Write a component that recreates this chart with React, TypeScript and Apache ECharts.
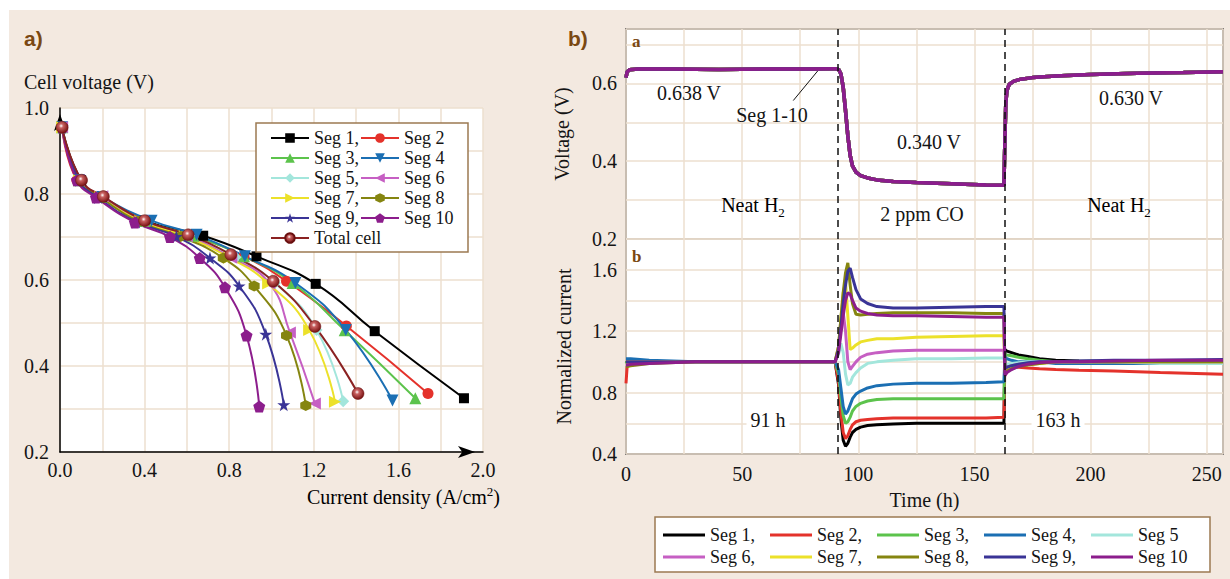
import React, { useEffect, useRef } from 'react';
import * as echarts from 'echarts';

// ---------- Panel a) polarization curves ----------
const segNames = ['Seg 1', 'Seg 2', 'Seg 3', 'Seg 4', 'Seg 5', 'Seg 6', 'Seg 7', 'Seg 8', 'Seg 9', 'Seg 10'];
const segColors = ['#000000', '#e4322b', '#5cc34c', '#1b6fb3', '#a3e6dc', '#c65fc3', '#ece12a', '#858510', '#3a3496', '#8c1d8c'];
const totalName = 'Total cell';
const totalColor = '#8b2222';

const seg1I = [0.01, 0.10, 0.20, 0.40, 0.677, 0.929, 1.209, 1.488, 1.910];
const seg1V = [0.955, 0.832, 0.793, 0.738, 0.703, 0.655, 0.591, 0.481, 0.325];
const seg2I = [0.01, 0.08, 0.19, 0.39, 0.63, 0.87, 1.071, 1.354, 1.74];
const seg2V = [0.955, 0.832, 0.793, 0.737, 0.703, 0.655, 0.597, 0.493, 0.336];
const seg3I = [0.01, 0.09, 0.19, 0.40, 0.63, 0.87, 1.10, 1.346, 1.68];
const seg3V = [0.955, 0.832, 0.793, 0.737, 0.703, 0.655, 0.593, 0.483, 0.325];
const seg4I = [0.01, 0.09, 0.20, 0.433, 0.646, 0.874, 1.113, 1.351, 1.572];
const seg4V = [0.955, 0.832, 0.793, 0.738, 0.705, 0.655, 0.593, 0.484, 0.32];
const seg5I = [0.01, 0.09, 0.19, 0.39, 0.61, 0.83, 1.016, 1.213, 1.339];
const seg5V = [0.955, 0.832, 0.793, 0.737, 0.703, 0.653, 0.593, 0.484, 0.318];
const seg6I = [0.01, 0.09, 0.20, 0.39, 0.60, 0.81, 0.99, 1.087, 1.205];
const seg6V = [0.955, 0.832, 0.795, 0.737, 0.702, 0.652, 0.592, 0.478, 0.313];
const seg7I = [0.01, 0.09, 0.19, 0.38, 0.59, 0.80, 0.984, 1.178, 1.30];
const seg7V = [0.955, 0.832, 0.793, 0.737, 0.702, 0.652, 0.592, 0.484, 0.317];
const seg8I = [0.01, 0.09, 0.19, 0.37, 0.57, 0.772, 0.918, 1.071, 1.162];
const seg8V = [0.955, 0.832, 0.793, 0.736, 0.701, 0.651, 0.586, 0.471, 0.308];
const seg9I = [0.01, 0.09, 0.18, 0.36, 0.55, 0.709, 0.847, 0.973, 1.058];
const seg9V = [0.955, 0.832, 0.792, 0.735, 0.701, 0.651, 0.586, 0.474, 0.31];
const seg10I = [0.01, 0.08, 0.17, 0.354, 0.52, 0.661, 0.78, 0.882, 0.942];
const seg10V = [0.955, 0.832, 0.792, 0.734, 0.70, 0.651, 0.583, 0.471, 0.306];
const totalI = [0.01, 0.102, 0.205, 0.40, 0.606, 0.808, 1.008, 1.205, 1.409];
const totalV = [0.955, 0.832, 0.794, 0.738, 0.705, 0.659, 0.597, 0.492, 0.336];

// ---------- Panel b) durability test ----------
const vTime = [0, 0.5, 1.5, 5, 20, 40, 60, 80, 90, 91.5, 92.5, 93.5, 94.5, 95.5, 96.5, 97.5, 99, 101, 104, 108, 115, 125, 140, 155, 162.7, 163.1, 163.5, 164, 165, 167, 170, 175, 185, 200, 220, 240, 257];
const cellVoltage = [0.615, 0.63, 0.635, 0.637, 0.637, 0.636, 0.637, 0.637, 0.638, 0.636, 0.625, 0.59, 0.53, 0.465, 0.415, 0.388, 0.372, 0.363, 0.357, 0.352, 0.348, 0.345, 0.342, 0.339, 0.338, 0.45, 0.55, 0.582, 0.598, 0.606, 0.611, 0.615, 0.619, 0.623, 0.626, 0.628, 0.63];

const iTime = [0, 0.5, 2, 10, 30, 50, 70, 90, 91.5, 92.5, 93.5, 94.5, 95.5, 96.5, 97.5, 99, 101, 104, 108, 115, 125, 140, 155, 162.7, 163.1, 164, 166, 169, 173, 178, 185, 195, 210, 230, 257];
const cur1 = [0.99, 1.0, 1.0, 1.0, 1.0, 1.0, 1.0, 1.0, 0.85, 0.63, 0.49, 0.45, 0.47, 0.51, 0.54, 0.56, 0.575, 0.585, 0.59, 0.595, 0.6, 0.6, 0.6, 0.6, 1.08, 1.07, 1.06, 1.045, 1.035, 1.02, 1.01, 1.005, 1.0, 1.0, 1.0];
const cur2 = [0.86, 0.97, 0.99, 1.0, 1.0, 1.0, 1.0, 1.0, 0.87, 0.67, 0.54, 0.5, 0.52, 0.56, 0.59, 0.61, 0.62, 0.625, 0.63, 0.635, 0.635, 0.635, 0.635, 0.64, 0.98, 0.975, 0.97, 0.965, 0.96, 0.955, 0.95, 0.945, 0.94, 0.93, 0.92];
const cur3 = [0.99, 1.0, 1.0, 1.0, 1.0, 1.0, 1.0, 1.0, 0.92, 0.77, 0.65, 0.6, 0.61, 0.64, 0.68, 0.71, 0.73, 0.745, 0.755, 0.76, 0.76, 0.76, 0.76, 0.76, 1.05, 1.045, 1.04, 1.03, 1.02, 1.01, 1.0, 1.0, 1.0, 1.0, 1.0];
const cur4 = [1.02, 1.02, 1.02, 1.01, 1.0, 1.0, 1.0, 1.0, 0.95, 0.83, 0.71, 0.66, 0.68, 0.72, 0.76, 0.79, 0.81, 0.83, 0.845, 0.855, 0.86, 0.86, 0.865, 0.87, 1.03, 1.02, 1.01, 1.0, 1.0, 1.0, 0.99, 0.99, 0.99, 0.99, 0.99];
const cur5 = [1.0, 1.0, 1.0, 1.0, 1.0, 1.0, 1.0, 1.0, 1.05, 1.12, 1.06, 0.92, 0.85, 0.86, 0.9, 0.93, 0.96, 0.99, 1.0, 1.01, 1.02, 1.02, 1.025, 1.025, 0.98, 0.985, 0.99, 0.995, 1.0, 1.0, 1.0, 1.0, 1.0, 0.99, 0.99];
const cur6 = [1.0, 1.0, 1.0, 1.0, 1.0, 1.0, 1.0, 1.0, 1.1, 1.25, 1.32, 1.2, 1.0, 0.95, 0.97, 1.0, 1.03, 1.05, 1.06, 1.07, 1.075, 1.075, 1.075, 1.075, 0.96, 0.965, 0.975, 0.985, 0.99, 1.0, 1.0, 1.0, 1.0, 1.0, 1.0];
const cur7 = [1.0, 1.0, 1.0, 1.0, 1.0, 1.0, 1.0, 1.0, 1.1, 1.28, 1.45, 1.52, 1.3, 1.08, 1.09, 1.11, 1.13, 1.14, 1.15, 1.15, 1.16, 1.165, 1.17, 1.17, 0.95, 0.955, 0.965, 0.975, 0.985, 0.99, 1.0, 1.0, 1.0, 1.0, 1.0];
const cur8 = [0.97, 0.97, 0.975, 0.99, 1.0, 1.0, 1.0, 1.0, 1.1, 1.28, 1.45, 1.58, 1.645, 1.5, 1.38, 1.31, 1.305, 1.31, 1.315, 1.32, 1.32, 1.32, 1.315, 1.315, 0.93, 0.94, 0.955, 0.97, 0.98, 0.99, 1.0, 1.0, 1.0, 1.0, 1.0];
const cur9 = [1.0, 1.0, 1.0, 1.0, 1.0, 1.0, 1.0, 1.0, 1.08, 1.22, 1.38, 1.5, 1.59, 1.61, 1.55, 1.47, 1.41, 1.38, 1.36, 1.35, 1.35, 1.355, 1.36, 1.36, 0.96, 0.965, 0.975, 0.985, 0.995, 1.0, 1.0, 1.005, 1.01, 1.01, 1.015];
const cur10 = [0.98, 0.98, 0.985, 0.99, 1.0, 1.0, 1.0, 1.0, 1.06, 1.18, 1.3, 1.4, 1.45, 1.44, 1.4, 1.35, 1.33, 1.315, 1.305, 1.3, 1.3, 1.295, 1.29, 1.29, 0.91, 0.93, 0.95, 0.97, 0.985, 0.995, 1.0, 1.0, 1.005, 1.01, 1.01];

const coStart = 91;
const coEnd = 163;

// ---------- styling ----------
const SERIF = 'Liberation Serif';
const TXT = '#141414';
const GRIDLINE = '#eddfcf';
const BROWN = '#7a4812';
const BOX = '#9c7a52';

const starPath = 'path://M0,-10L2.245,-3.09L9.51,-3.09L3.633,1.18L5.878,8.09L0,3.82L-5.878,8.09L-3.633,1.18L-9.51,-3.09L-2.245,-3.09Z';
const pentPath = 'path://M0,-10L9.51,-3.09L5.878,8.09L-5.878,8.09L-9.51,-3.09Z';
const hexPath = 'path://M0,-10L8.66,-5L8.66,5L0,10L-8.66,5L-8.66,-5Z';

const segSymbols = ['rect', 'circle', 'triangle', 'triangle', 'diamond', 'triangle', 'triangle', hexPath, starPath, pentPath];
const segRotate = [0, 0, 0, 180, 0, 90, -90, 0, 0, 0];
const segSizes = [10, 11, 12, 12, 12, 12, 12, 11, 13, 12];

function buildOption() {
  const leftI = [seg1I, seg2I, seg3I, seg4I, seg5I, seg6I, seg7I, seg8I, seg9I, seg10I];
  const leftV = [seg1V, seg2V, seg3V, seg4V, seg5V, seg6V, seg7V, seg8V, seg9V, seg10V];
  const currents = [cur1, cur2, cur3, cur4, cur5, cur6, cur7, cur8, cur9, cur10];

  const series: any[] = [];
  leftI.forEach((I, k) => {
    series.push({
      name: segNames[k],
      type: 'line',
      xAxisIndex: 0,
      yAxisIndex: 0,
      data: I.map((x, j) => [x, leftV[k][j]]),
      smooth: 0.5,
      symbol: segSymbols[k],
      symbolRotate: segRotate[k],
      symbolSize: segSizes[k],
      showAllSymbol: true,
      lineStyle: { color: segColors[k], width: 2 },
      itemStyle: { color: segColors[k] },
      z: 2,
    });
  });
  const totalGrad = new echarts.graphic.RadialGradient(0.42, 0.38, 0.6, [
    { offset: 0, color: '#ffffff' },
    { offset: 0.3, color: '#c86060' },
    { offset: 1, color: '#7a1414' },
  ]);
  series.push({
    name: totalName,
    type: 'line',
    xAxisIndex: 0,
    yAxisIndex: 0,
    data: totalI.map((x, j) => [x, totalV[j]]),
    smooth: 0.5,
    symbol: 'circle',
    symbolSize: 12,
    lineStyle: { color: totalColor, width: 2 },
    itemStyle: { color: totalGrad, borderColor: '#6a1010', borderWidth: 0.5 },
    z: 2,
  });

  const dashedMark = {
    silent: true,
    symbol: ['none', 'none'],
    label: { show: false },
    lineStyle: { color: '#111', type: [7, 5], width: 1.5 },
    data: [{ xAxis: coStart }, { xAxis: coEnd }],
  };

  segNames.forEach((n, k) => {
    const s: any = {
      name: 'R' + (k + 1),
      type: 'line',
      xAxisIndex: 1,
      yAxisIndex: 1,
      data: vTime.map((t, j) => [t, cellVoltage[j]]),
      symbol: 'none',
      lineStyle: { color: segColors[k], width: 3.5 },
      itemStyle: { color: segColors[k] },
    };
    if (k === 0) s.markLine = dashedMark;
    if (k === 9) {
      s.markLine = {
        silent: true,
        symbol: ['none', 'none'],
        label: { show: false },
        lineStyle: { color: '#111', type: 'solid', width: 1 },
        data: [[{ coord: [72, 0.556] }, { coord: [82.5, 0.632] }]],
      };
    }
    series.push(s);
  });
  segNames.forEach((n, k) => {
    const s: any = {
      name: 'R' + (k + 1),
      type: 'line',
      xAxisIndex: 2,
      yAxisIndex: 2,
      data: iTime.map((t, j) => [t, currents[k][j]]),
      symbol: 'none',
      lineStyle: { color: segColors[k], width: 3 },
      itemStyle: { color: segColors[k] },
    };
    if (k === 0) s.markLine = dashedMark;
    series.push(s);
  });

  const tickFont = { fontFamily: SERIF, fontSize: 20, color: TXT };
  const splitLine = { show: true, lineStyle: { color: GRIDLINE, width: 1.5 } };

  const legendBase = {
    orient: 'vertical',
    selectedMode: false,
    padding: 0,
    itemGap: 0,
    z: 6,
  };
  const leftLegendText = { fontFamily: SERIF, fontSize: 18, color: TXT, lineHeight: 20 };
  const rightLegendText = { fontFamily: SERIF, fontSize: 18, color: TXT, lineHeight: 22 };
  const rightCols = [663, 770, 877, 984, 1091];

  const legends: any[] = [
    {
      ...legendBase,
      left: 270,
      top: 128,
      itemWidth: 38,
      itemHeight: 12,
      textStyle: leftLegendText,
      data: ['Seg 1', 'Seg 3', 'Seg 5', 'Seg 7', 'Seg 9', totalName],
      formatter: (n: string) => (n === totalName ? n : n + ','),
    },
    {
      ...legendBase,
      left: 360,
      top: 128,
      itemWidth: 38,
      itemHeight: 12,
      textStyle: leftLegendText,
      data: ['Seg 2', 'Seg 4', 'Seg 6', 'Seg 8', 'Seg 10'],
    },
  ];
  rightCols.forEach((x, c) => {
    legends.push({
      ...legendBase,
      left: x,
      top: 524,
      icon: 'rect',
      itemWidth: 42,
      itemHeight: 3,
      textStyle: rightLegendText,
      data: ['R' + (c + 1), 'R' + (c + 6)],
      formatter: (name: string) => {
        const n = parseInt(name.slice(1), 10);
        return 'Seg ' + n + (n === 5 || n === 10 ? '' : ',');
      },
    });
  });

  const txt = (text: string, x: number, y: number, extra: any = {}) => ({
    type: 'text',
    x,
    y,
    z: 7,
    style: {
      text,
      fontFamily: SERIF,
      fontSize: 20,
      fill: TXT,
      align: 'center',
      verticalAlign: 'middle',
      ...extra,
    },
  });
  const subRich = {
    a: { fontFamily: SERIF, fontSize: 20, color: TXT, lineHeight: 28 },
    s: { fontFamily: SERIF, fontSize: 13, color: TXT, lineHeight: 28, verticalAlign: 'bottom' },
  };
  const supRich = {
    a: { fontFamily: SERIF, fontSize: 20, color: TXT, lineHeight: 24 },
    s: { fontFamily: SERIF, fontSize: 13, color: TXT, lineHeight: 24, verticalAlign: 'top' },
  };

  const graphic: any[] = [
    { type: 'rect', z: 3, shape: { x: 256, y: 123, width: 212, height: 129 }, style: { fill: '#fff', stroke: BOX, lineWidth: 1.5 } },
    { type: 'rect', z: 3, shape: { x: 655, y: 517, width: 555, height: 55 }, style: { fill: '#fff', stroke: BOX, lineWidth: 1.5 } },
    { type: 'text', x: 24, y: 38, z: 7, style: { text: 'a)', fontFamily: 'Liberation Sans', fontWeight: 'bold', fontSize: 21, fill: BROWN, align: 'left', verticalAlign: 'middle' } },
    { type: 'text', x: 568, y: 38, z: 7, style: { text: 'b)', fontFamily: 'Liberation Sans', fontWeight: 'bold', fontSize: 21, fill: BROWN, align: 'left', verticalAlign: 'middle' } },
    txt('Cell voltage (V)', 24, 82, { align: 'left' }),
    { type: 'text', x: 500, y: 497, z: 7, style: { text: '{a|Current density (A/cm}{s|2}{a|)}', rich: supRich, align: 'right', verticalAlign: 'middle' } },
    { type: 'text', x: 632, y: 41, z: 7, style: { text: 'a', fontFamily: SERIF, fontWeight: 'bold', fontSize: 17, fill: BROWN, align: 'left', verticalAlign: 'middle' } },
    { type: 'text', x: 632, y: 256, z: 7, style: { text: 'b', fontFamily: SERIF, fontWeight: 'bold', fontSize: 17, fill: BROWN, align: 'left', verticalAlign: 'middle' } },
    txt('0.638 V', 689, 93),
    txt('Seg 1-10', 772, 115),
    txt('0.340 V', 929, 142),
    txt('0.630 V', 1131, 98),
    { type: 'text', x: 753, y: 205, z: 7, style: { text: '{a|Neat H}{s|2}', rich: subRich, align: 'center', verticalAlign: 'middle' } },
    txt('2 ppm CO', 922, 214),
    { type: 'text', x: 1119, y: 205, z: 7, style: { text: '{a|Neat H}{s|2}', rich: subRich, align: 'center', verticalAlign: 'middle' } },
    txt('91 h', 768, 420, { backgroundColor: '#fff', padding: [0, 4] }),
    txt('163 h', 1058, 420, { backgroundColor: '#fff', padding: [0, 4] }),
  ];

  return {
    animation: false,
    backgroundColor: 'transparent',
    grid: [
      { left: 60, top: 108, width: 423, height: 344, show: true, backgroundColor: '#fff', borderWidth: 0 },
      { left: 626, top: 29, width: 597, height: 210, show: true, backgroundColor: '#fff', borderColor: '#2a2a2a', borderWidth: 1.5 },
      { left: 626, top: 239, width: 597, height: 215, show: true, backgroundColor: '#fff', borderColor: '#2a2a2a', borderWidth: 1.5 },
    ],
    xAxis: [
      {
        type: 'value', gridIndex: 0, min: 0, max: 2.0, interval: 0.2,
        axisLine: { show: true, lineStyle: { color: '#000', width: 1.5 }, symbol: ['none', 'arrow'], symbolSize: [9, 17], symbolOffset: [0, -8] },
        axisTick: { show: false },
        axisLabel: { ...tickFont, margin: 8, formatter: (v: number) => { const k = Math.round(v * 10); return k % 4 === 0 ? (k / 10).toFixed(1) : ''; } },
        splitLine,
      },
      {
        type: 'value', gridIndex: 1, min: 0, max: 257, interval: 25,
        axisLine: { show: false }, axisTick: { show: false }, axisLabel: { show: false },
        splitLine,
      },
      {
        type: 'value', gridIndex: 2, min: 0, max: 257, interval: 25,
        name: 'Time (h)', nameLocation: 'middle', nameGap: 36,
        nameTextStyle: { fontFamily: SERIF, fontSize: 20, color: TXT },
        axisLine: { show: false }, axisTick: { show: false },
        axisLabel: { ...tickFont, margin: 10, formatter: (v: number) => (Math.round(v) % 50 === 0 && v <= 250 ? String(Math.round(v)) : '') },
        splitLine,
      },
    ],
    yAxis: [
      {
        type: 'value', gridIndex: 0, min: 0.2, max: 1.0, interval: 0.1,
        axisLine: { show: true, lineStyle: { color: '#000', width: 1.5 }, symbol: ['none', 'arrow'], symbolSize: [9, 17], symbolOffset: [0, -6] },
        axisTick: { show: false },
        axisLabel: { ...tickFont, margin: 11, formatter: (v: number) => { const k = Math.round(v * 10); return k % 2 === 0 ? (k / 10).toFixed(1) : ''; } },
        splitLine,
      },
      {
        type: 'value', gridIndex: 1, min: 0.2, max: 0.74, interval: 0.1,
        name: 'Voltage (V)', nameLocation: 'middle', nameGap: 54,
        nameTextStyle: { fontFamily: SERIF, fontSize: 20, color: TXT },
        axisLine: { show: false }, axisTick: { show: false },
        axisLabel: { ...tickFont, margin: 9, formatter: (v: number) => { const r = v * 10; const k = Math.round(r); return Math.abs(r - k) < 0.01 && k % 2 === 0 ? (k / 10).toFixed(1) : ''; } },
        splitLine,
      },
      {
        type: 'value', gridIndex: 2, min: 0.4, max: 1.8, interval: 0.2,
        name: 'Normalized current', nameLocation: 'middle', nameGap: 52,
        nameTextStyle: { fontFamily: SERIF, fontSize: 20, color: TXT },
        axisLine: { show: false }, axisTick: { show: false },
        axisLabel: { ...tickFont, margin: 9, formatter: (v: number) => { const k = Math.round(v * 10); return k % 4 === 0 && k < 18 ? (k / 10).toFixed(1) : ''; } },
        splitLine,
      },
    ],
    legend: legends,
    graphic,
    series,
  };
}

export default function App() {
  const ref = useRef<HTMLDivElement>(null);
  useEffect(() => {
    if (!ref.current) return;
    const chart = echarts.init(ref.current, null, { renderer: 'svg' });
    chart.setOption(buildOption() as any);
    return () => chart.dispose();
  }, []);
  return (
    <div style={{ position: 'absolute', left: 0, top: 0, width: 1230, height: 579, background: '#fff' }}>
      <div style={{ position: 'absolute', left: 9, top: 10, width: 1221, height: 569, background: '#f3e9e0' }} />
      <div ref={ref} style={{ position: 'absolute', left: 0, top: 0, width: 1230, height: 579 }} />
    </div>
  );
}
